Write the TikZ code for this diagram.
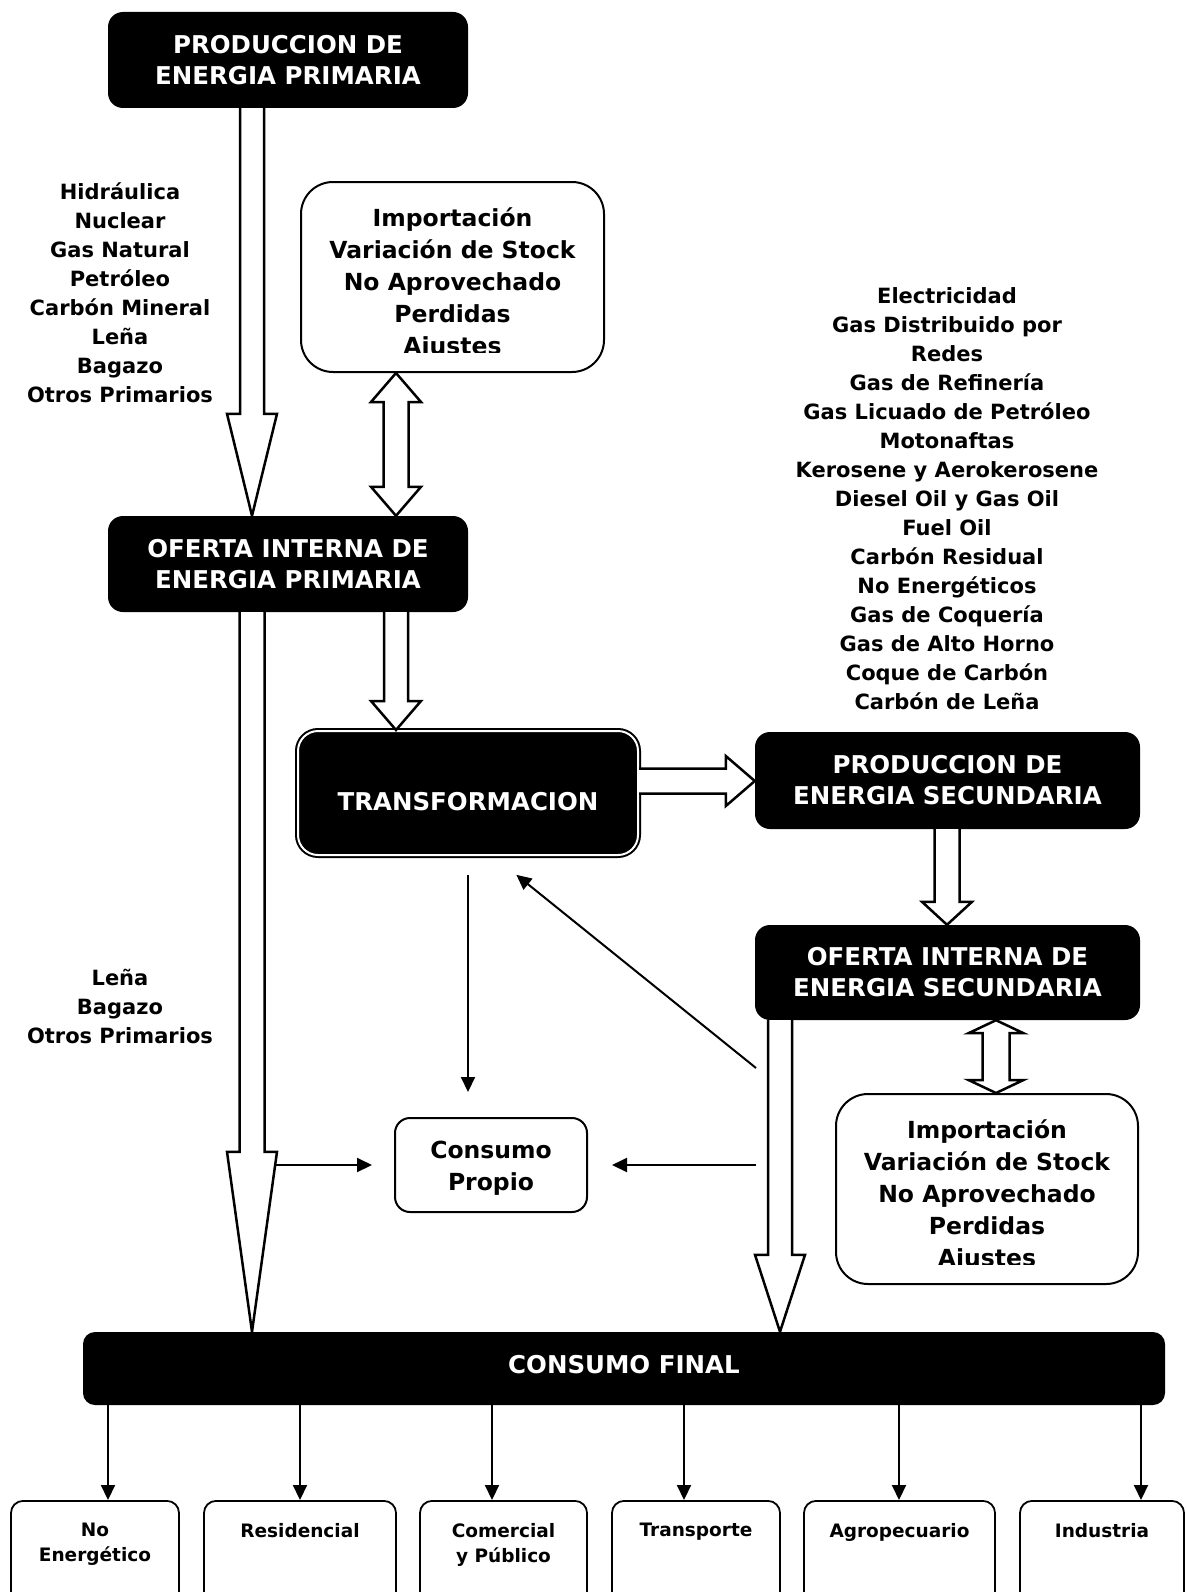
\documentclass[tikz,border=0pt]{standalone}
\usepackage{fontspec}
\setmainfont{DejaVu Sans}
\usetikzlibrary{arrows.meta,positioning,calc}
\tikzset{
  blackbox/.style={rectangle,rounded corners=15pt,fill=black,text=white,align=center,inner sep=0pt,font=\fontsize{24.5}{31}\selectfont\bfseries},
  trbox/.style={blackbox,draw=black,double=white,line width=2pt,double distance=2pt,rounded corners=20pt},
  whitebox/.style={rectangle,rounded corners=32pt,draw=black,line width=2pt,fill=white,inner sep=0pt},
  boxtxt/.style={align=center,inner sep=0pt,font=\fontsize{23.5}{32}\selectfont\bfseries},
  sectbox/.style={rectangle,rounded corners=12pt,draw=black,line width=1.8pt,anchor=north,minimum height=130pt,inner sep=0pt},
  secttxt/.style={align=center,anchor=north,inner sep=0pt,font=\fontsize{18.5}{25}\selectfont\bfseries},
  lab/.style={align=center,inner sep=0pt,font=\fontsize{21}{29}\selectfont\bfseries},
  fat/.style={draw=black,fill=white,line width=2.5pt,line join=miter},
  thin/.style={line width=2pt,-{Triangle[length=15pt,width=14pt]}}
}
% hollow arrows: #1 start, #2 tip, #3 half shaft, #4 half head, #5 head length
\newcommand{\fatdown}[5]{%
  \draw[fat] let \p1=(#1), \p2=(#2) in
    (\x1-#3,\y1) -- (\x1-#3,\y2+#5) -- (\x1-#4,\y2+#5) -- (\x1,\y2)
    -- (\x1+#4,\y2+#5) -- (\x1+#3,\y2+#5) -- (\x1+#3,\y1);}
\newcommand{\fatright}[5]{%
  \draw[fat] let \p1=(#1), \p2=(#2) in
    (\x1,\y1+#3) -- (\x2-#5,\y1+#3) -- (\x2-#5,\y1+#4) -- (\x2,\y1)
    -- (\x2-#5,\y1-#4) -- (\x2-#5,\y1-#3) -- (\x1,\y1-#3);}
\newcommand{\fatboth}[5]{%
  \draw[fat] let \p1=(#1), \p2=(#2) in
    (\x1,\y1) -- (\x1-#4,\y1-#5) -- (\x1-#3,\y1-#5) -- (\x1-#3,\y2+#5)
    -- (\x1-#4,\y2+#5) -- (\x2,\y2) -- (\x1+#4,\y2+#5) -- (\x1+#3,\y2+#5)
    -- (\x1+#3,\y1-#5) -- (\x1+#4,\y1-#5) -- cycle;}

\begin{document}
\begin{tikzpicture}[x=1pt,y=-1pt]
  \useasboundingbox (0,0) rectangle (1187,1592);
  \clip (0,0) rectangle (1187,1592);

  % primary side
  \node[blackbox,minimum width=360pt,minimum height=96pt] (pep) at (288,60) {PRODUCCION DE\\ENERGIA PRIMARIA};
  \node[blackbox,minimum width=360pt,minimum height=96pt] (oip) at (288,564) {OFERTA INTERNA DE\\ENERGIA PRIMARIA};
  \node[whitebox,minimum width=303pt,minimum height=190pt] (imp1) at (452.5,277) {};
  \begin{scope}
    \clip (imp1.north west) rectangle ($(imp1.south east)+(0,-21)$);
    \node[boxtxt] (imp1t) at ($(imp1.center)+(0,7)$) {Importación\\Variación de Stock\\No Aprovechado\\Perdidas\\Ajustes};
  \end{scope}
  \node[lab] (lprim) at (120,293) {Hidráulica\\Nuclear\\Gas Natural\\Petróleo\\Carbón Mineral\\Leña\\Bagazo\\Otros Primarios};
  \node[lab] (lrest) at (120,1006.5) {Leña\\Bagazo\\Otros Primarios};

  % transformation and secondary side
  \node[trbox,minimum width=340pt,minimum height=124pt] (tr) at (468,793) {\raisebox{-17.5pt}[0pt][0pt]{TRANSFORMACION}};
  \node[blackbox,minimum width=385pt,minimum height=97pt] (pes) at (947.5,780.5) {PRODUCCION DE\\ENERGIA SECUNDARIA};
  \node[blackbox,minimum width=385pt,minimum height=95pt] (ois) at (947.5,972.5) {OFERTA INTERNA DE\\ENERGIA SECUNDARIA};
  \node[lab] (lsec) at (947,498.5) {Electricidad\\Gas Distribuido por\\Redes\\Gas de Refinería\\Gas Licuado de Petróleo\\Motonaftas\\Kerosene y Aerokerosene\\Diesel Oil y Gas Oil\\Fuel Oil\\Carbón Residual\\No Energéticos\\Gas de Coquería\\Gas de Alto Horno\\Coque de Carbón\\Carbón de Leña};
  \node[whitebox,minimum width=302pt,minimum height=190pt] (imp2) at (987,1189) {};
  \begin{scope}
    \clip (imp2.north west) rectangle ($(imp2.south east)+(0,-21)$);
    \node[boxtxt] (imp2t) at ($(imp2.center)+(0,7)$) {Importación\\Variación de Stock\\No Aprovechado\\Perdidas\\Ajustes};
  \end{scope}
  \node[whitebox,rounded corners=15pt,minimum width=192pt,minimum height=94pt] (cp) at (491,1165) {};
  \node[boxtxt] (cpt) at ($(cp.center)+(0,3)$) {Consumo\\Propio};

  % final consumption
  \node[blackbox,rounded corners=12pt,minimum width=1082pt,minimum height=73pt] (cf) at (624,1368.5) {\raisebox{-4.5pt}[0pt][0pt]{CONSUMO FINAL}};
  \node[sectbox,minimum width=168pt] (s1) at (95,1500) {};
  \node[sectbox,minimum width=192pt] (s2) at (300,1500) {};
  \node[sectbox,minimum width=167pt] (s3) at (503.5,1500) {};
  \node[sectbox,minimum width=168pt] (s4) at (696,1500) {};
  \node[sectbox,minimum width=191pt] (s5) at (899.5,1500) {};
  \node[sectbox,minimum width=164pt] (s6) at (1102,1500) {};
  \node[secttxt] (t1) at ([yshift=-23pt]s1.north) {No\\Energético};
  \node[secttxt] (t2) at ([yshift=-23pt]s2.north) {Residencial};
  \node[secttxt] (t3) at ([yshift=-23pt]s3.north) {Comercial\\y Público};
  \node[secttxt] (t4) at ([yshift=-23pt]s4.north) {Transporte};
  \node[secttxt] (t5) at ([yshift=-23pt]s5.north) {Agropecuario};
  \node[secttxt] (t6) at ([yshift=-23pt]s6.north) {Industria};

  % axes of the arrows
  \coordinate (xa) at (252,0);
  \coordinate (xb) at (396,0);
  \coordinate (xc) at (947,0);
  \coordinate (xd) at (780,0);
  \coordinate (xe) at (996,0);
  \coordinate (xf) at (468,0);
  \coordinate (xg) at (493,0);
  \coordinate (ya) at (0,781);
  \coordinate (dg) at (756,1068);
  \coordinate (cpl) at (275,1165);
  \coordinate (cpr) at (756,1165);
  \coordinate (b1) at (108,0);
  \coordinate (b2) at (300,0);
  \coordinate (b3) at (492,0);
  \coordinate (b4) at (684,0);
  \coordinate (b5) at (899,0);
  \coordinate (b6) at (1141,0);

  % hollow arrows
  \fatdown{xa |- pep.south}{xa |- oip.north}{12pt}{25pt}{102pt}
  \fatboth{xb |- imp1.south}{xb |- oip.north}{12.5pt}{25pt}{29pt}
  \fatdown{xa |- oip.south}{xa |- cf.north}{12.5pt}{25pt}{180pt}
  \fatdown{xb |- oip.south}{xb |- tr.north}{12pt}{25pt}{29pt}
  \fatright{tr.east |- ya}{pes.west |- ya}{12.5pt}{25pt}{29pt}
  \fatdown{xc |- pes.south}{xc |- ois.north}{12.5pt}{25pt}{23pt}
  \fatboth{xe |- ois.south}{xe |- imp2.north}{13.5pt}{27.5pt}{13pt}
  \fatdown{xd |- ois.south}{xd |- cf.north}{12pt}{25pt}{77pt}

  % thin arrows
  \draw[thin,shorten <=19pt,shorten >=25pt] (xf |- tr.south) -- (xf |- cp.north);
  \draw[thin,shorten >=30pt] (dg) -- (xg |- tr.south);
  \draw[thin,shorten >=22pt] (cpl) -- (cp.west);
  \draw[thin,shorten >=24pt] (cpr) -- (cp.east);
  \draw[thin] (b1 |- cf.south) -- (b1 |- s1.north);
  \draw[thin] (b2 |- cf.south) -- (b2 |- s2.north);
  \draw[thin] (b3 |- cf.south) -- (b3 |- s3.north);
  \draw[thin] (b4 |- cf.south) -- (b4 |- s4.north);
  \draw[thin] (b5 |- cf.south) -- (b5 |- s5.north);
  \draw[thin] (b6 |- cf.south) -- (b6 |- s6.north);
\end{tikzpicture}
\end{document}
